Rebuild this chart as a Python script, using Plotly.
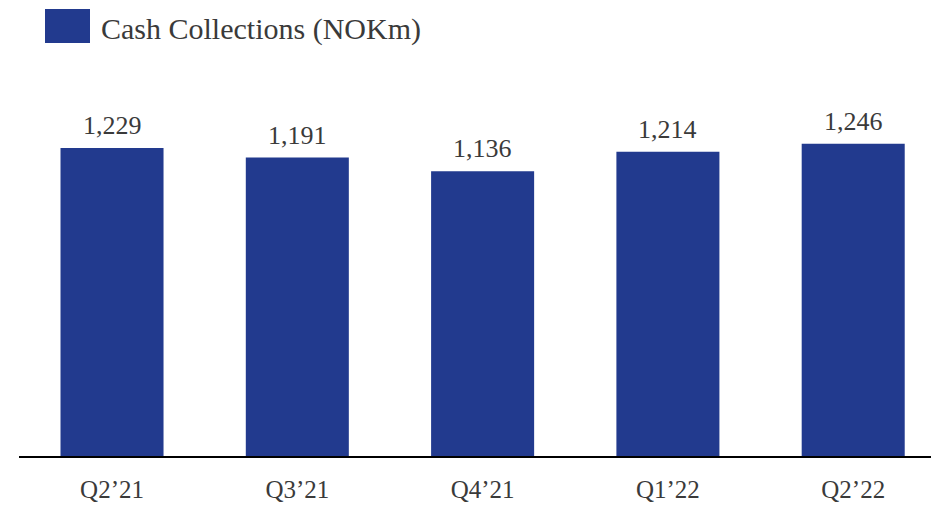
import plotly.graph_objects as go

categories = ["Q2\u201921", "Q3\u201921", "Q4\u201921", "Q1\u201922", "Q2\u201922"]
values = [1229, 1191, 1136, 1214, 1246]
value_labels = ["1,229", "1,191", "1,136", "1,214", "1,246"]
series_name = "Cash Collections (NOKm)"

BAR = "#223a8e"
TXT = "#3a3a3a"
FONT = "Liberation Serif"

fig = go.Figure()
fig.add_trace(go.Bar(
    x=list(range(len(categories))), y=values, name=series_name,
    marker=dict(color=BAR, line=dict(width=0)),
    showlegend=False,
))

annotations = [dict(x=i, y=v, text=t, xref="x", yref="y", showarrow=False,
                    xanchor="center", yanchor="bottom", yshift=6,
                    font=dict(family=FONT, size=26, color=TXT))
               for i, (v, t) in enumerate(zip(values, value_labels))]

PL, PT, PW, PH = 11, 52, 920, 396  # plot area in figure px

annotations.append(dict(text=series_name, xref="paper", yref="paper",
                        x=(99 - PL - 8) / PW, y=(PT + PH - (29 - 8)) / PH,
                        xanchor="left", yanchor="middle", showarrow=False,
                        font=dict(family=FONT, size=30, color=TXT)))

fig.update_layout(
    width=939, height=508,
    margin=dict(l=PL, r=8, t=PT, b=60),
    paper_bgcolor="white", plot_bgcolor="white",
    bargap=0.444,
    font=dict(family=FONT, color=TXT),
    xaxis=dict(
        range=[-0.502, 4.463],
        tickmode="array", tickvals=list(range(len(categories))), ticktext=categories,
        showline=True, linecolor="#000000", linewidth=2,
        showgrid=False, zeroline=False,
        ticks="outside", ticklen=0, tickcolor="white",
        ticklabelstandoff=10,
        tickfont=dict(family=FONT, size=25, color=TXT),
    ),
    yaxis=dict(range=[0, 1580], visible=False, showgrid=False, zeroline=False),
    shapes=[dict(type="rect", xref="paper", yref="paper",
                 x0=(45 - 8 - PL) / PW, x1=(90 - 8 - PL) / PW,
                 y0=(PT + PH - (43 - 8)) / PH, y1=(PT + PH - (9 - 8)) / PH,
                 fillcolor=BAR, line=dict(width=0))],
    annotations=annotations,
)

fig.write_html("out.html")
